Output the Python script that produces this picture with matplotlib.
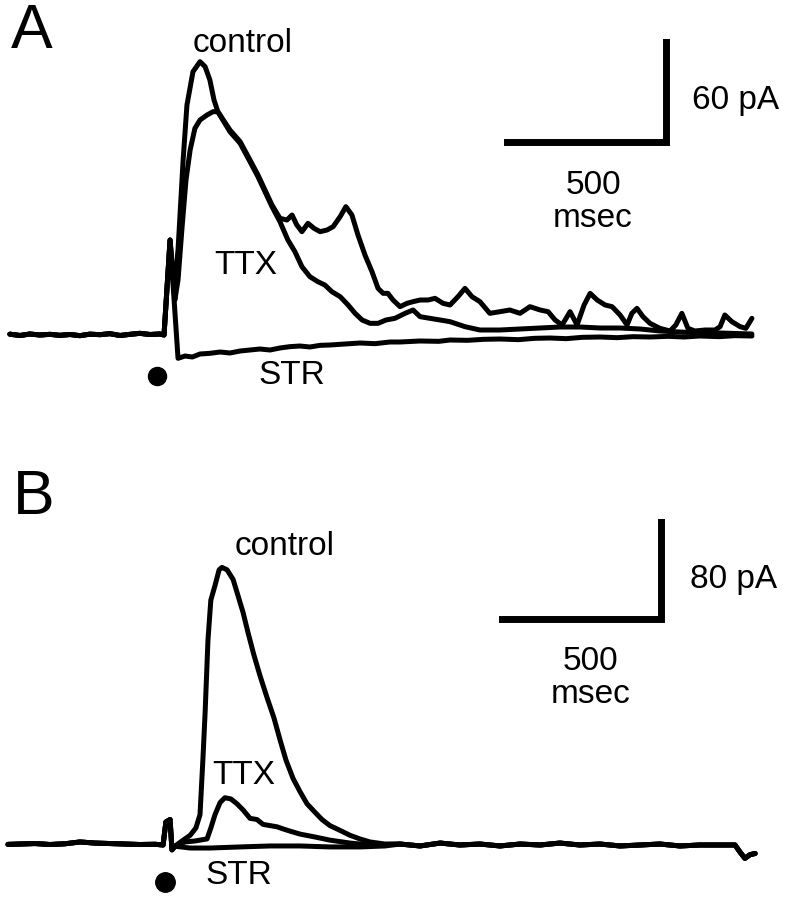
import numpy as np
import matplotlib
matplotlib.use('Agg')
import matplotlib.pyplot as plt

plt.rcParams['font.family'] = ['Liberation Sans', 'DejaVu Sans']

# time in msec (0 = stimulus), current in pA (outward up)

# ---- panel A ----
a_base_t = [-487, -455, -424, -393, -361, -330, -298, -267, -236, -204, -173, -141, -110, -79, -47, -16, -3, 16]
a_base_i = [0.5, -0.3, 0.6, 0.0, 0.4, -0.2, 0.3, -0.4, 0.5, 0.2, 0.8, -0.3, 0.4, 1.0, 0.3, 0.6, 0.0, 57]

a_ctrl_t = [28, 41, 57, 69, 88, 110, 126, 141, 154, 166, 204, 236, 267, 292, 314, 336, 361, 383,
            399, 414, 430, 449, 468, 487, 509, 528, 550, 568, 587, 606, 628, 650, 669, 685, 700,
            716, 738, 760, 779, 801, 826, 848, 873, 895, 920, 942, 964, 989, 1020, 1052, 1083,
            1115, 1146, 1178, 1203, 1225, 1247, 1272, 1294, 1316, 1335, 1357, 1382, 1404, 1429,
            1451, 1466, 1482, 1501, 1523, 1554, 1586, 1604, 1623, 1642, 1664, 1696, 1727, 1743,
            1758, 1780, 1806, 1824, 1843]
a_ctrl_i = [27, 51, 105, 138, 158, 164, 161, 153, 141, 134, 123, 116, 105, 96, 87, 78, 70, 69,
            72, 66, 62, 67, 64, 62, 63, 65, 71, 77, 72, 60, 48, 38, 28, 25, 25,
            21, 17, 19, 20, 21, 21, 22, 19, 18, 23, 28, 23, 20, 13, 14, 15,
            13, 17, 15, 14, 9, 6, 14, 6, 18, 25, 21, 18, 17, 12,
            6, 13, 16, 11, 7, 4, 2.4, 6, 13, 4, 2.4, 3, 3, 5,
            12, 8, 5, 4, 10]

a_ttx_t = [31, 41, 53, 66, 79, 94, 110, 132, 151, 166, 204, 236, 267, 292, 314, 336, 361, 386,
           408, 430, 455, 480, 502, 524, 550, 575, 597, 619, 644, 669, 694, 722, 754, 779, 801,
           832, 864, 895, 942, 989, 1052, 1115, 1178, 1240, 1303, 1366, 1429, 1492, 1554, 1617,
           1680, 1743, 1843]
a_ttx_i = [21, 33, 63, 93, 111, 124, 129, 132, 134, 134, 122, 115, 104, 95, 86, 77, 68, 57,
           50, 41, 35, 32, 30, 26, 23, 18, 13, 9, 7, 7, 9, 10, 13, 15, 11,
           10, 9, 8, 5, 3, 3, 3.6, 4.2, 4.8, 4.8, 4.2, 4.2, 3.6, 2.4, 1.8,
           1.2, 1.2, 0.6]

a_str_t = [41, 63, 86, 110, 141, 173, 204, 236, 267, 298, 330, 361, 392, 424, 455, 487, 518,
           565, 612, 660, 706, 738, 800, 860, 895, 950, 1000, 1052, 1110, 1160, 1209, 1260,
           1310, 1366, 1420, 1470, 1523, 1580, 1630, 1680, 1740, 1790, 1843]
a_str_i = [-14, -12.6, -13.2, -11.4, -11.0, -10.2, -10.8, -9.6, -9.0, -8.4, -9.0, -7.8, -7.0,
           -6.6, -7.2, -6.2, -6.0, -5.4, -4.8, -5.2, -4.2, -4.2, -3.6, -3.8, -3.0, -3.2, -2.6,
           -2.4, -2.8, -2.0, -1.8, -2.2, -1.4, -1.2, -1.6, -1.0, -1.2, -0.8, -1.2, -0.6, -1.0,
           -0.4, -0.6]

# ---- panel B ----
b_base_t = [-493, -455, -408, -361, -314, -267, -220, -173, -126, -79, -31, -6, 3, 16, 22, 31]
b_base_i = [0.5, 0.8, 1.2, 0.4, 1.0, 2.5, 1.6, 1.2, 0.8, 0.4, 0.6, 0.0, 19, 21, -4, -1]

b_ctrl_t = [57, 79, 97, 110, 119, 126, 135, 144, 157, 170, 179, 195, 214, 229, 245, 261, 279,
            298, 320, 342, 361, 380, 402, 424, 446, 471, 493, 518, 550, 581, 612, 644, 691]
b_ctrl_i = [4, 8, 14, 25, 70, 109, 169, 202, 214, 227, 229, 227, 219, 206, 192, 175, 157,
            140, 122, 105, 87, 70, 55, 44, 34, 27, 21, 16, 12, 8, 5, 2.5, 0.8]

b_ttx_t = [63, 94, 132, 144, 157, 173, 188, 207, 226, 245, 267, 289, 308, 330, 352, 374, 392,
           424, 471, 518, 581, 644]
b_ttx_i = [2.5, 3.3, 5, 14, 25, 35, 39, 38, 34, 29, 22, 21, 17, 16, 15, 13, 11.5,
           9, 6.6, 4, 1.6, 0]

b_str_t = [79, 141, 236, 330, 424, 518, 612, 691]
b_str_i = [-2.5, -2.5, -1.6, -0.8, -0.8, -1.6, -1.6, -0.8]

b_tail_t = [738, 801, 864, 926, 989, 1052, 1115, 1178, 1240, 1303, 1366, 1429, 1492, 1554,
            1617, 1680, 1743, 1790, 1806, 1821, 1837, 1853]
b_tail_i = [0.8, -0.8, 1.6, 0, 0.8, -0.8, 0.8, 0, 1.6, 0, 0.8, -0.8, 0, 0.8,
            -0.8, 0, 0, 0, -6, -11, -8, -7]

fig = plt.figure(figsize=(7.86, 8.99), dpi=100)
axA = fig.add_axes([0, 1 - 440 / 899, 1, 440 / 899])
axB = fig.add_axes([0, 0, 1, 459 / 899])

lw = 3.6
kw = dict(color='black', lw=lw, solid_joinstyle='round', solid_capstyle='round')

# panel A traces
axA.plot(a_base_t + a_ctrl_t, a_base_i + a_ctrl_i, **kw)
axA.plot(a_base_t + a_ttx_t, a_base_i + a_ttx_i, **kw)
axA.plot(a_base_t + a_str_t, a_base_i + a_str_i, **kw)

# panel B traces
axB.plot(b_base_t + b_ctrl_t + b_tail_t, b_base_i + b_ctrl_i + b_tail_i, **kw)
axB.plot(b_base_t + b_ttx_t + b_tail_t, b_base_i + b_ttx_i + b_tail_i, **kw)
axB.plot(b_base_t + b_str_t + b_tail_t, b_base_i + b_str_i + b_tail_i, **kw)

fs = 24
# scale bars
axA.plot([1074, 1574, 1574], [116, 116, 176], color='black', lw=5, solid_joinstyle='miter')
axA.text(1655, 141, '60 pA', fontsize=fs, ha='left', va='center')
axA.text(1344, 90, '500', fontsize=fs, ha='center', va='center')
axA.text(1344, 70, 'msec', fontsize=fs, ha='center', va='center')

axB.plot([1058, 1558, 1558], [186.5, 186.5, 266.5], color='black', lw=5, solid_joinstyle='miter')
axB.text(1648, 219, '80 pA', fontsize=fs, ha='left', va='center')
axB.text(1335, 151, '500', fontsize=fs, ha='center', va='center')
axB.text(1335, 124, 'msec', fontsize=fs, ha='center', va='center')

# labels
axA.text(-418, 182, 'A', fontsize=45, ha='center', va='center')
axA.text(245, 175, 'control', fontsize=fs, ha='center', va='center')
axA.text(254, 42, 'TTX', fontsize=fs, ha='center', va='center')
axA.text(399, -24, 'STR', fontsize=fs, ha='center', va='center')
axA.plot([-25], [-24.6], 'o', color='black', ms=13)

axB.text(-411, 287, 'B', fontsize=45, ha='center', va='center')
axB.text(377, 246, 'control', fontsize=fs, ha='center', va='center')
axB.text(248, 57, 'TTX', fontsize=fs, ha='center', va='center')
axB.text(232, -25, 'STR', fontsize=fs, ha='center', va='center')
axB.plot([0], [-30.5], 'o', color='black', ms=14)

axA.set_xlim(-518, 1950)
axA.set_ylim(-63, 201)
axB.set_xlim(-518, 1950)
axB.set_ylim(-44.55, 334.1)
for ax in (axA, axB):
    ax.axis('off')

fig.savefig('out.png', dpi=100)
